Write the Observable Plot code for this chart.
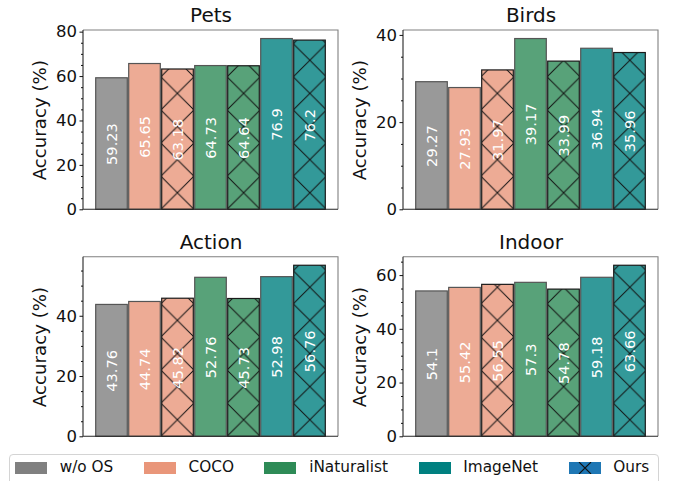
<!DOCTYPE html>
<html>
<head>
<meta charset="utf-8">
<script src="https://cdn.jsdelivr.net/npm/d3@7"></script>
<script src="https://cdn.jsdelivr.net/npm/@observablehq/plot@0.6"></script>
<style>
  html, body { margin: 0; padding: 0; background: #fff; }
  #root { position: relative; width: 673px; height: 481px; overflow: hidden; font-family: "DejaVu Sans", sans-serif; }
  .panel { position: absolute; }
  #legend { position: absolute; left: 9px; top: 454px; width: 650px; height: 40px; box-sizing: border-box;
            border: 1px solid #d4d4d4; border-radius: 4px; display: flex; align-items: flex-start;
            padding-left: 5px; padding-top: 6px; gap: 30.5px; font-size: 15.3px; color: #111; }
  .item { display: flex; align-items: center; gap: 12.7px; line-height: 13px; }
  .sw { width: 32px; height: 12px; }
</style>
</head>
<body>
<div id="root"></div>
<script>
// ---- data ----
const barKeys = ["w/o OS", "COCO", "COCO + Ours", "iNaturalist", "iNaturalist + Ours", "ImageNet", "ImageNet + Ours"];
const barColors = ["#808080", "#E9967A", "#E9967A", "#2E8B57", "#2E8B57", "#008080", "#008080"];
const barHatched = [false, false, true, false, true, false, true];

const petsValues   = [59.23, 65.65, 63.18, 64.73, 64.64, 76.9, 76.2];
const birdsValues  = [29.27, 27.93, 31.97, 39.17, 33.99, 36.94, 35.96];
const actionValues = [43.76, 44.74, 45.82, 52.76, 45.73, 52.98, 56.76];
const indoorValues = [54.1, 55.42, 56.55, 57.3, 54.78, 59.18, 63.66];

const petsTicks   = [0, 20, 40, 60, 80];
const birdsTicks  = [0, 20, 40];
const actionTicks = [0, 20, 40];
const indoorTicks = [0, 20, 40, 60];

const legendLabels = ["w/o OS", "COCO", "iNaturalist", "ImageNet", "Ours"];
const legendColors = ["#808080", "#E9967A", "#2E8B57", "#008080", "#1F77B4"];

const root = document.getElementById("root");

function makePanel({title, values, ticks, id, left, top, marginTop, marginBottom}) {
  const data = barKeys.map((k, i) => ({k, v: values[i], color: barColors[i], hatched: barHatched[i]}));
  const ymax = d3.max(values) * 1.05;
  const minor = d3.range(0, ymax, 5).filter(t => !ticks.includes(t));
  const padOuter = 0.35;

  const defsMark = (index, scales, vals, dim) => {
    const x1 = dim.marginLeft, x2 = dim.width - dim.marginRight;
    const step = (x2 - x1) / (barKeys.length + 2 * padOuter);
    const y2 = dim.height - dim.marginBottom;
    const x0 = x1 + padOuter * step;
    const defs = d3.create("svg:defs");
    const p = defs.append("pattern").attr("id", "hatch-" + id)
      .attr("patternUnits", "userSpaceOnUse")
      .attr("x", x0).attr("y", y2).attr("width", step).attr("height", step);
    p.append("path")
      .attr("d", `M${-1},${-1}L${step + 1},${step + 1}M${step + 1},${-1}L${-1},${step + 1}`)
      .attr("stroke", "#111").attr("stroke-width", 1).attr("fill", "none");
    return defs.node();
  };

  const frameMark = (index, scales, vals, dim) => {
    const x1 = dim.marginLeft, x2 = dim.width - dim.marginRight;
    const y1 = dim.marginTop, y2 = dim.height - dim.marginBottom;
    const g = d3.create("svg:g").attr("fill", "none");
    g.append("path").attr("d", `M${x1},${y1}H${x2}V${y2}`).attr("stroke", "#808080").attr("stroke-width", 1.1);
    g.append("path").attr("d", `M${x1},${y1}V${y2}H${x2}`).attr("stroke", "#262626").attr("stroke-width", 1.1);
    return g.node();
  };

  const svg = Plot.plot({
    width: 340,
    height: 225,
    marginLeft: 83,
    marginRight: 2,
    marginTop,
    marginBottom,
    style: {fontFamily: "DejaVu Sans", background: "transparent", overflow: "visible", color: "#111"},
    x: {type: "band", domain: barKeys, paddingInner: 0, paddingOuter: padOuter, axis: null},
    y: {domain: [0, ymax], axis: null},
    marks: [
      defsMark,
      Plot.barY(data, {x: "k", y: "v", fill: "color", fillOpacity: 0.8, insetLeft: 0.7, insetRight: 0.7}),
      Plot.barY(data.filter(d => !d.hatched), {x: "k", y: "v", fill: "none", stroke: "#555", strokeWidth: 1.2, insetLeft: 0.7, insetRight: 0.7}),
      Plot.barY(data.filter(d => d.hatched), {x: "k", y: "v", fill: `url(#hatch-${id})`, stroke: "#1a1a1a", strokeWidth: 1.2, insetLeft: 0.7, insetRight: 0.7}),
      Plot.text(data, {x: "k", y: d => d.v / 2, text: d => String(d.v), rotate: -90, fill: "white", fontSize: 14.6, lineAnchor: "middle"}),
      frameMark,
      Plot.axisY({ticks: minor, tickSize: 2, tickFormat: () => "", label: null, stroke: "#111"}),
      Plot.axisY({ticks, tickSize: 3.5, tickPadding: 3, fontSize: 16.5, label: null, tickFormat: d => String(d), stroke: "#111", fill: "#111"}),
      Plot.text([title], {frameAnchor: "top", dy: -8.3, lineAnchor: "bottom", textAnchor: "middle", fontSize: 20, fill: "#111"}),
      Plot.text(["Accuracy (%)"], {frameAnchor: "left", dx: -43.6, rotate: -90, textAnchor: "middle", fontSize: 18.2, lineAnchor: "middle", fill: "#111"})
    ]
  });
  svg.classList.add("panel");
  svg.style.left = left + "px";
  svg.style.top = top + "px";
  root.appendChild(svg);
}

makePanel({title: "Pets",   values: petsValues,   ticks: petsTicks,   id: "pets",   left: 0,   top: 0,   marginTop: 30,   marginBottom: 15.7});
makePanel({title: "Birds",  values: birdsValues,  ticks: birdsTicks,  id: "birds",  left: 320, top: 0,   marginTop: 30,   marginBottom: 15.7});
makePanel({title: "Action", values: actionValues, ticks: actionTicks, id: "action", left: 0,   top: 225, marginTop: 31.7, marginBottom: 13.7});
makePanel({title: "Indoor", values: indoorValues, ticks: indoorTicks, id: "indoor", left: 320, top: 225, marginTop: 31.7, marginBottom: 13.7});

// legend
const legend = document.createElement("div");
legend.id = "legend";
legendLabels.forEach((lab, i) => {
  const item = document.createElement("div");
  item.className = "item";
  const sw = document.createElementNS("http://www.w3.org/2000/svg", "svg");
  sw.setAttribute("class", "sw");
  sw.setAttribute("width", 32); sw.setAttribute("height", 12);
  let inner = `<rect x="0" y="0" width="32" height="12" fill="${legendColors[i]}"/>`;
  if (lab === "Ours") {
    inner += `<path d="M10,0L22,12M22,0L10,12" stroke="#111" stroke-width="1.1"/>`;
  }
  sw.innerHTML = inner;
  const t = document.createElement("span");
  t.textContent = lab;
  item.appendChild(sw);
  item.appendChild(t);
  legend.appendChild(item);
});
root.appendChild(legend);
</script>
</body>
</html>
